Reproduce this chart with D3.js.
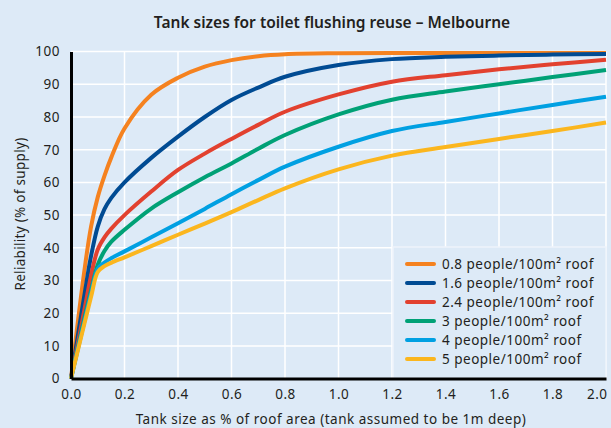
<!DOCTYPE html>
<html>
<head>
<meta charset="utf-8">
<script src="https://cdn.jsdelivr.net/npm/d3@7"></script>
<style>
  body { margin: 0; background: #ddeaf7; }
  text { font-family: "Noto Sans", "Open Sans", sans-serif; fill: #231f20; }
</style>
</head>
<body>
<div id="chart"></div>
<script>
// Data
var tankSizes = [0, 0.05, 0.075, 0.1, 0.125, 0.15, 0.2, 0.3, 0.4, 0.5, 0.6, 0.7, 0.8, 1.0, 1.2, 1.4, 1.6, 1.8, 2.0]
var seriesNames = ["0.8 people/100m² roof", "1.6 people/100m² roof", "2.4 people/100m² roof",
  "3 people/100m² roof", "4 people/100m² roof", "5 people/100m² roof"]
var seriesColors = ["#f5821f", "#004b93", "#e2412f", "#00a176", "#00a0e2", "#fbb61e"]
var people08 = [0, 33, 46.5, 55.5, 62, 67.5, 76.5, 86.8, 92, 95.4, 97.4, 98.6, 99.2, 99.5, 99.6, 99.6, 99.6, 99.6, 99.6]
var people16 = [0, 25.5, 37.5, 46.5, 51.8, 55.2, 60, 67.5, 74, 80, 85.2, 89, 92.3, 95.9, 97.7, 98.4, 98.8, 99.1, 99.3]
var people24 = [0, 21, 31.5, 39.5, 43.2, 45.8, 50, 57.2, 63.8, 68.8, 73.3, 77.6, 81.6, 86.9, 90.8, 92.8, 94.6, 96.1, 97.5]
var people3 = [0, 18.5, 27, 34.8, 39, 41.8, 45.5, 52, 57, 61.6, 65.8, 70.3, 74.5, 80.8, 85.3, 87.8, 90, 92.2, 94.4]
var people4 = [0, 17.5, 26, 33.6, 35.5, 36.8, 38.9, 43.2, 47.5, 51.9, 56.4, 60.7, 64.8, 70.9, 75.7, 78.5, 81.1, 83.7, 86.2]
var people5 = [0, 16.8, 25, 32.6, 34.4, 35.4, 37.1, 40.5, 44, 47.4, 50.9, 54.6, 58.2, 64, 68.2, 70.8, 73.3, 75.7, 78.3]
var xTicks = [0, 0.2, 0.4, 0.6, 0.8, 1.0, 1.2, 1.4, 1.6, 1.8, 2.0]
var yTicks = [0, 10, 20, 30, 40, 50, 60, 70, 80, 90, 100]

var allSeries = [people08, people16, people24, people3, people4, people5]

// Dimensions
var width = 611
var height = 428
var margin = { top: 51.6, right: 5, bottom: 49.4, left: 71 }

var svg = d3.select("#chart")
  .append("svg")
  .attr("width", width)
  .attr("height", height)

svg.append("rect")
  .attr("width", width)
  .attr("height", height)
  .attr("fill", "#ddeaf7")

var x = d3.scaleLinear().domain([0, 2]).range([margin.left, width - margin.right])
var y = d3.scaleLinear().domain([0, 100]).range([height - margin.bottom, margin.top])

// Gridlines
svg.append("g")
  .selectAll("line")
  .data(xTicks.slice(1))
  .enter()
  .append("line")
  .attr("x1", function(d) { return x(d) })
  .attr("x2", function(d) { return x(d) })
  .attr("y1", y(0))
  .attr("y2", y(100))
  .attr("stroke", "#ffffff")
  .attr("stroke-width", 1.5)

svg.append("g")
  .selectAll("line")
  .data(yTicks.slice(1))
  .enter()
  .append("line")
  .attr("x1", x(0))
  .attr("x2", x(2))
  .attr("y1", function(d) { return y(d) })
  .attr("y2", function(d) { return y(d) })
  .attr("stroke", "#ffffff")
  .attr("stroke-width", 1.5)

// Legend box (covers gridlines)
svg.append("rect")
  .attr("x", 393)
  .attr("y", 247)
  .attr("width", x(2) - 393)
  .attr("height", y(0) - 247)
  .attr("fill", "#ddeaf7")
  .attr("stroke", "#eef4fb")
  .attr("stroke-width", 1.5)

// Lines
var line = d3.line()
  .x(function(d, i) { return x(tankSizes[i]) })
  .y(function(d) { return y(d) })
  .curve(d3.curveCatmullRom.alpha(0.5))

svg.append("g")
  .selectAll("path")
  .data(allSeries)
  .enter()
  .append("path")
  .attr("d", line)
  .attr("fill", "none")
  .attr("stroke", function(d, i) { return seriesColors[i] })
  .attr("stroke-width", 4)
  .attr("stroke-linejoin", "round")

// Axes
var xAxis = svg.append("g")
  .attr("transform", "translate(0," + y(0) + ")")
  .call(d3.axisBottom(x).tickValues(xTicks).tickSize(0).tickPadding(11).tickFormat(d3.format(".1f")))
xAxis.select(".domain").attr("stroke", "#000").attr("stroke-width", 3)
xAxis.selectAll("text")
  .style("font-size", "13.5px")
  .style("letter-spacing", "0.5px")
  .style("font-family", "'Noto Sans', sans-serif")
  .attr("fill", "#231f20")
xAxis.selectAll(".tick:last-of-type text")
  .attr("text-anchor", "end")
  .attr("x", 1)

var yAxis = svg.append("g")
  .attr("transform", "translate(" + x(0) + ",0)")
  .call(d3.axisLeft(y).tickValues(yTicks).tickSize(0).tickPadding(11))
yAxis.select(".domain").attr("stroke", "#000").attr("stroke-width", 3)
yAxis.selectAll("text")
  .style("font-size", "13.5px")
  .style("letter-spacing", "0.5px")
  .style("font-family", "'Noto Sans', sans-serif")
  .attr("fill", "#231f20")

// Title and axis titles
svg.append("text")
  .attr("x", 332)
  .attr("y", 28)
  .attr("text-anchor", "middle")
  .style("font-size", "15.5px")
  .style("font-weight", "600")
  .text("Tank sizes for toilet flushing reuse – Melbourne")

svg.append("text")
  .attr("x", 331)
  .attr("y", 424)
  .attr("text-anchor", "middle")
  .style("font-size", "13.5px")
  .style("letter-spacing", "0.5px")
  .text("Tank size as % of roof area (tank assumed to be 1m deep)")

svg.append("text")
  .attr("transform", "translate(25,214) rotate(-90)")
  .attr("text-anchor", "middle")
  .style("font-size", "13.5px")
  .style("letter-spacing", "0.3px")
  .text("Reliability (% of supply)")

// Legend
var legend = svg.append("g")
  .selectAll("g")
  .data(seriesNames)
  .enter()
  .append("g")
  .attr("transform", function(d, i) { return "translate(407," + (264 + i * 19) + ")" })

legend.append("line")
  .attr("x1", 0)
  .attr("x2", 27)
  .attr("stroke", function(d, i) { return seriesColors[i] })
  .attr("stroke-width", 4)
  .attr("stroke-linecap", "round")

legend.append("text")
  .attr("x", 35)
  .attr("dy", "0.35em")
  .style("font-size", "13.5px")
  .style("letter-spacing", "0.5px")
  .text(function(d) { return d })
</script>
</body>
</html>
